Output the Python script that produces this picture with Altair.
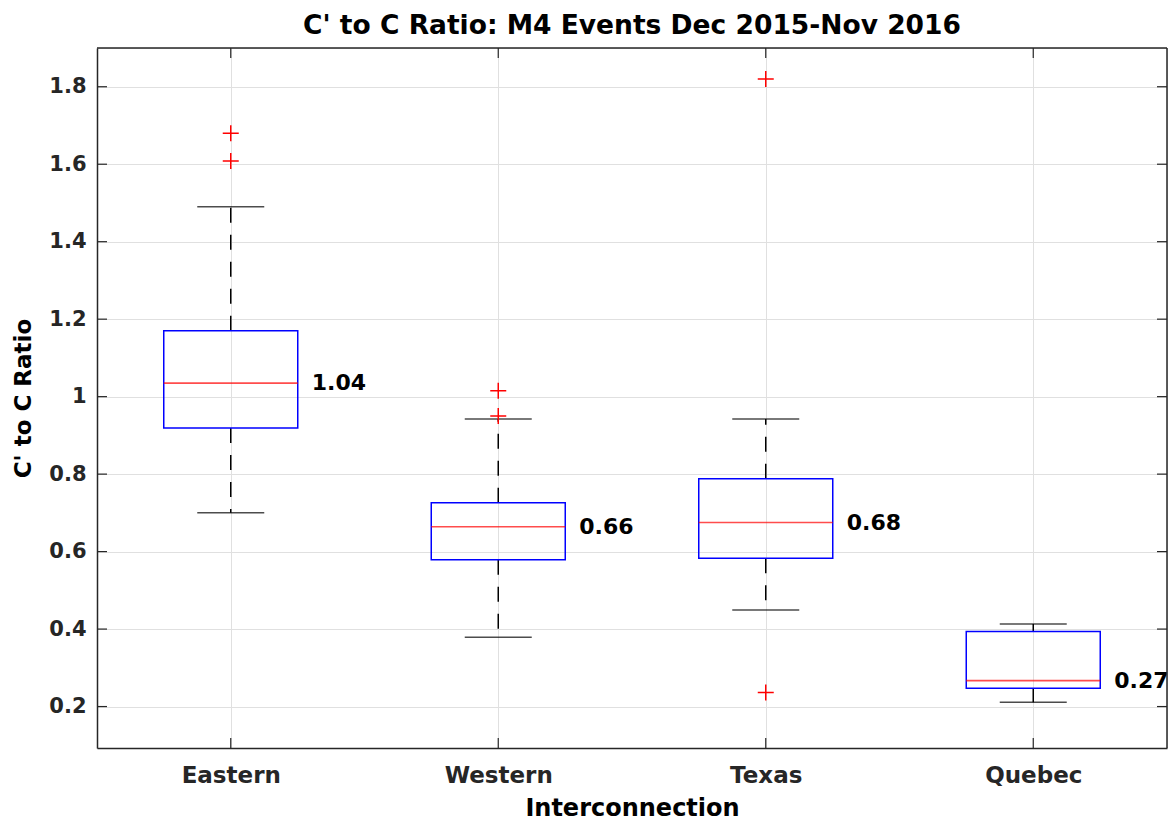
import altair as alt
import pandas as pd

categories = ["Eastern", "Western", "Texas", "Quebec"]
q1 = [0.919, 0.579, 0.583, 0.2475]
median = [1.035, 0.664, 0.675, 0.267]
q3 = [1.170, 0.726, 0.788, 0.394]
whisker_lo = [0.700, 0.379, 0.449, 0.211]
whisker_hi = [1.490, 0.942, 0.942, 0.413]
median_labels = ["1.04", "0.66", "0.68", "0.27"]

outlier_cats = ["Eastern", "Eastern", "Western", "Western", "Texas", "Texas"]
outlier_vals = [1.68, 1.608, 1.015, 0.950, 1.820, 0.236]

y_ticks = [0.2, 0.4, 0.6, 0.8, 1.0, 1.2, 1.4, 1.6, 1.8]

W, H = 1070, 700
FONT = "DejaVu Sans"
FRAME = "#262626"

boxes = pd.DataFrame({
    "cat": categories, "q1": q1, "med": median, "q3": q3,
    "lo": whisker_lo, "hi": whisker_hi, "label": median_labels,
})
outliers = pd.DataFrame({"cat": outlier_cats, "val": outlier_vals})
yt = pd.DataFrame({"v": y_ticks})
xt = pd.DataFrame({"cat": categories})
one = pd.DataFrame({"k": [0]})

xscale = alt.Scale(type="point", padding=0.5, domain=categories)
yscale = alt.Scale(domain=[0.093, 1.9], nice=False, zero=False)

X = alt.X("cat:N", scale=xscale, sort=categories,
          axis=alt.Axis(title="Interconnection", labelAngle=0, ticks=False,
                        domain=True, domainColor=FRAME, domainWidth=1.5,
                        labelPadding=16, titlePadding=9,
                        labelFont=FONT, labelFontWeight="bold",
                        labelFontSize=23, labelColor="#262626",
                        titleFont=FONT, titleFontWeight="bold",
                        titleFontSize=24, titleColor="black",
                        grid=True, gridColor="#e0e0e0"))
Y = alt.Y("q3:Q", scale=yscale,
          axis=alt.Axis(title="C' to C Ratio", values=y_ticks, format="~g",
                        ticks=False, domain=True, domainColor=FRAME,
                        domainWidth=1.5, labelPadding=11,
                        labelFont=FONT, labelFontWeight="bold",
                        labelFontSize=21, labelColor="#262626",
                        titleFont=FONT, titleFontWeight="bold",
                        titleFontSize=23, titleColor="black",
                        titlePadding=13, grid=True, gridColor="#e0e0e0"))

base = alt.Chart(boxes)

whisk_up = base.mark_rule(color="black", strokeWidth=1.5, strokeDash=[15, 12]).encode(
    x=X, y=Y, y2="hi:Q")
whisk_dn = base.mark_rule(color="black", strokeWidth=1.5, strokeDash=[15, 12]).encode(
    x=alt.X("cat:N", scale=xscale), y=alt.Y("q1:Q", scale=yscale), y2="lo:Q")
cap_hi = base.mark_tick(color="black", size=67, thickness=1.5).encode(
    x=alt.X("cat:N", scale=xscale), y=alt.Y("hi:Q", scale=yscale))
cap_lo = base.mark_tick(color="black", size=67, thickness=1.5).encode(
    x=alt.X("cat:N", scale=xscale), y=alt.Y("lo:Q", scale=yscale))
box = base.mark_bar(size=134, fill="white", fillOpacity=0, stroke="#0000ff",
                    strokeWidth=1.5, cornerRadius=0).encode(
    x=alt.X("cat:N", scale=xscale), y=alt.Y("q1:Q", scale=yscale), y2="q3:Q")
med = base.mark_tick(color="#ff0000", size=134, thickness=1.6).encode(
    x=alt.X("cat:N", scale=xscale), y=alt.Y("med:Q", scale=yscale))
lab = base.mark_text(align="left", baseline="middle", dx=81, font=FONT,
                     fontWeight="bold", fontSize=22, color="black").encode(
    x=alt.X("cat:N", scale=xscale), y=alt.Y("med:Q", scale=yscale), text="label:N")

out = alt.Chart(outliers).mark_point(
    shape="M-1,0L1,0M0,-1L0,1", size=256, stroke="#ff0000", strokeWidth=1.5,
    filled=False, opacity=1).encode(
    x=alt.X("cat:N", scale=xscale), y=alt.Y("val:Q", scale=yscale))

tick_col = FRAME
ytick_l = alt.Chart(yt).mark_rule(color=tick_col, strokeWidth=1.2).encode(
    y=alt.Y("v:Q", scale=yscale), x=alt.value(0), x2=alt.value(10))
ytick_r = alt.Chart(yt).mark_rule(color=tick_col, strokeWidth=1.2).encode(
    y=alt.Y("v:Q", scale=yscale), x=alt.value(W - 10), x2=alt.value(W))
xtick_b = alt.Chart(xt).mark_rule(color=tick_col, strokeWidth=1.2).encode(
    x=alt.X("cat:N", scale=xscale), y=alt.value(H - 10), y2=alt.value(H))
xtick_t = alt.Chart(xt).mark_rule(color=tick_col, strokeWidth=1.2).encode(
    x=alt.X("cat:N", scale=xscale), y=alt.value(0), y2=alt.value(10))

frame_top = alt.Chart(one).mark_rule(color=FRAME, strokeWidth=1.5).encode(
    x=alt.value(0), x2=alt.value(W), y=alt.value(0))
frame_right = alt.Chart(one).mark_rule(color=FRAME, strokeWidth=1.5).encode(
    x=alt.value(W), y=alt.value(0), y2=alt.value(H))

chart = alt.layer(
    whisk_up, whisk_dn, cap_hi, cap_lo, box, med, out, lab,
    ytick_l, ytick_r, xtick_b, xtick_t, frame_top, frame_right,
).properties(
    width=W, height=H,
    title=alt.TitleParams("C' to C Ratio: M4 Events Dec 2015-Nov 2016",
                          font=FONT, fontSize=26.5, fontWeight="bold",
                          color="black", anchor="middle", baseline="bottom",
                          offset=8, dy=27),
    autosize=alt.AutoSizeParams(type="none"),
    padding={"left": 97, "top": 48, "right": 1, "bottom": 74},
).configure_view(
    stroke=FRAME, strokeWidth=1.5
).configure(background="white")

chart.save("out.html", embed_options={"renderer": "svg", "actions": False})
